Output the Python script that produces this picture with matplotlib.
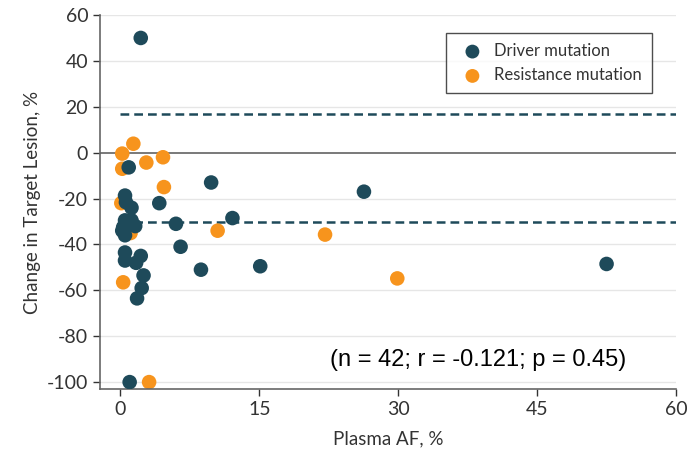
import numpy as np
import matplotlib.pyplot as plt

plt.rcParams['axes.unicode_minus'] = False
plt.rcParams['font.family'] = ['Lato', 'DejaVu Sans']

# driver mutation points (plasma AF %, change in target lesion %)
driver_af = [2.2, 26.3, 52.5, 9.8, 6.0, 12.1, 6.5, 8.7, 15.1, 1.0, 4.2,
             0.9, 0.5, 0.6, 1.2, 0.5, 1.2, 0.3, 0.8, 0.5, 1.6, 0.2,
             0.5, 0.5, 2.2, 1.7, 2.5, 2.3, 1.8]
driver_chg = [50, -17, -48.5, -13, -31, -28.5, -41, -51, -49.5, -100, -22,
              -6.4, -18.7, -21.6, -24, -29.5, -29.5, -32.5, -31.5, -36, -32, -34,
              -43.5, -47, -45, -48, -53.5, -59, -63.5]

# resistance mutation points
resist_af = [1.4, 0.2, 0.2, 2.8, 4.6, 4.7, 0.1, 1.1, 10.5, 22.1, 29.9, 0.3, 3.1]
resist_chg = [3.9, -0.4, -7, -4.3, -2, -15, -22, -35, -34, -35.7, -54.8, -56.5, -100]

thresholds = [17, -30]
x_ticks = [0, 15, 30, 45, 60]
y_ticks = [-100, -80, -60, -40, -20, 0, 20, 40, 60]

dark = '#1e4a5a'
orange = '#f7941d'
textc = '#333333'

fig = plt.figure(figsize=(6.96, 4.59), dpi=100)
ax = fig.add_axes([0.1437, 0.1525, 0.8276, 0.8148])

for yt in y_ticks:
    if yt != 0:
        ax.axhline(yt, color='#e6e6e6', lw=1, zorder=0)
ax.axhline(0, color='#555555', lw=1.1, zorder=1)
for t in thresholds:
    ax.plot([0, 60], [t, t], color='#1e4a5a', lw=1.8, ls=(0, (3.5, 2)), zorder=1)

ax.scatter(resist_af, resist_chg, s=110, color=orange, edgecolors='none',
           label='Resistance mutation', zorder=2)
ax.scatter(driver_af, driver_chg, s=110, color=dark, edgecolors='none',
           label='Driver mutation', zorder=3)

ax.set_xlim(-2.2, 60)
ax.set_ylim(-103, 60)
ax.set_xticks(x_ticks)
ax.set_yticks(y_ticks)
ax.tick_params(colors=textc, labelsize=14, length=5, width=1, direction='out')
for side in ['top', 'right']:
    ax.spines[side].set_visible(False)
for side in ['left', 'bottom']:
    ax.spines[side].set_color('#666666')
    ax.spines[side].set_linewidth(1.2)

ax.set_xlabel('Plasma AF, %', fontsize=13.5, color=textc, labelpad=9)
ax.set_ylabel('Change in Target Lesion, %', fontsize=13.5, color=textc, labelpad=4)

h, l = ax.get_legend_handles_labels()
leg = ax.legend(h[::-1], l[::-1], loc='upper right', bbox_to_anchor=(0.958, 0.952),
                borderaxespad=0, fontsize=12, frameon=True, fancybox=False,
                edgecolor='#222222', handletextpad=0.3, borderpad=0.6,
                markerscale=0.95)
leg.get_frame().set_linewidth(1.0)
for t in leg.get_texts():
    t.set_color(textc)

ax.text(0.656, 0.078, '(n = 42; r = -0.121; p = 0.45)', transform=ax.transAxes,
        fontsize=17, family='Liberation Sans', ha='center', va='center', color='black')

fig.savefig('out.png', dpi=100)
